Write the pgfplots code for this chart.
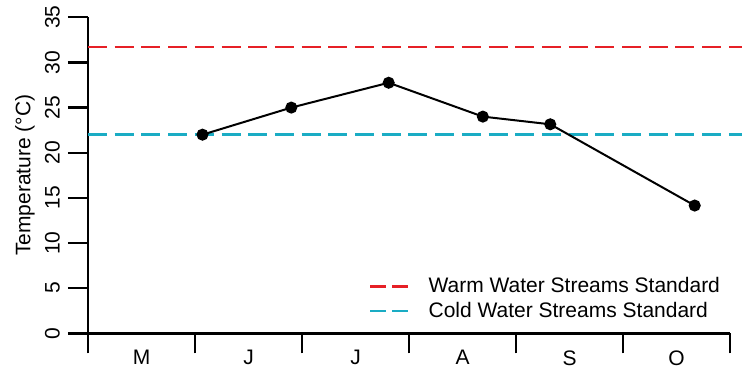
\documentclass[border=0pt]{standalone}
\usepackage{pgfplots}
\pgfplotsset{compat=1.18}
\usepackage{fontspec}
\setmainfont{Liberation Sans}
\definecolor{warm}{RGB}{230,32,38}
\definecolor{cold}{RGB}{26,172,196}
\begin{document}
\begin{tikzpicture}
\begin{axis}[
  at={(88bp,35.7bp)}, anchor=south west,
  scale only axis, width=654bp, height=316bp,
  xmin=0, xmax=6.112, ymin=0, ymax=35,
  axis x line*=bottom, axis y line*=left,
  x axis line style={shorten >=12bp},
  axis line style={line width=2.4bp, black},
  tick style={line width=2.4bp, black},
  tick align=outside, major tick length=20bp,
  xtick={0,1,2,3,4,5,6}, xticklabels={M,J,J,A,S,O}, x tick label as interval,
  ytick={0,5,10,15,20,25,30,35},
  /pgf/number format/assume math mode=true,
  tick label style={font=\fontsize{21bp}{25bp}\selectfont},
  yticklabel style={rotate=90, anchor=south, inner sep=0pt, yshift=8bp},
  xticklabel style={inner sep=0pt, anchor=north, yshift=3bp},
  ylabel={Temperature (°C)},
  every axis y label/.style={at={(axis description cs:0,0.5)}, xshift=-63bp, rotate=90, anchor=center, font=\fontsize{21bp}{25bp}\selectfont},
  legend style={draw=none, fill=none, at={(axis cs:2.626,6.3)}, anchor=north west,
    font=\fontsize{21bp}{25bp}\selectfont, inner sep=0pt, row sep=4.5bp,
    nodes={inner sep=0pt, text height=16bp, text depth=4bp}},
  legend cell align=left,
  legend image code/.code={\draw[#1, dash pattern=on 16bp off 6bp] (0bp,0bp) -- (38bp,0bp);},
  clip=false,
]
\addplot[warm, line width=2.4bp, dash pattern=on 19bp off 7.7bp] coordinates {(0,31.7) (6.112,31.7)};
\addlegendentry{\hspace{19bp}Warm Water Streams Standard}
\addplot[cold, line width=2.4bp, dash pattern=on 19bp off 7.7bp] coordinates {(0,22.0) (6.112,22.0)};
\addlegendentry{\hspace{19bp}Cold Water Streams Standard}
\addplot[black, line width=2bp, mark=*, mark size=5bp, forget plot] coordinates {
  (1.07,22.0) (1.90,25.0) (2.81,27.75) (3.69,24.0) (4.32,23.15) (5.67,14.15)};
\end{axis}
\pgfresetboundingbox
\path (0,0) rectangle (742bp,369bp);
\end{tikzpicture}
\end{document}
